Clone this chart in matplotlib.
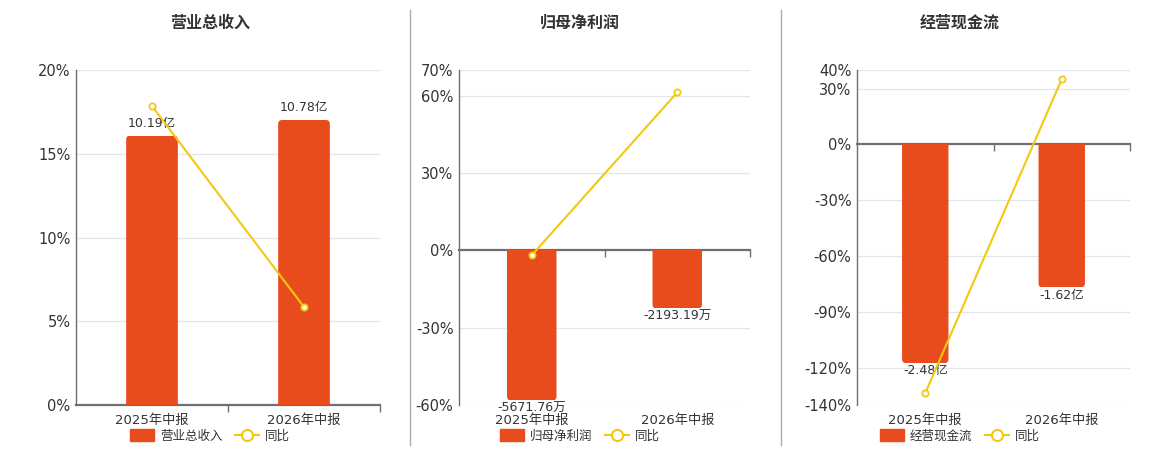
import numpy as np
import matplotlib.pyplot as plt
from matplotlib.patches import Patch, FancyBboxPatch, Rectangle
from matplotlib.lines import Line2D

plt.rcParams['font.family'] = ['DejaVu Sans', 'Noto Sans CJK SC']

# data
periods = ["2025年中报", "2026年中报"]
titles = ["营业总收入", "归母净利润", "经营现金流"]
revenue = [10.19, 10.78]          # 亿
revenue_yoy = [17.85, 5.85]       # %
profit = [-5671.76, -2193.19]     # 万
profit_yoy = [-1.9, 61.3]         # %
cashflow = [-2.48, -1.62]         # 亿
cashflow_yoy = [-133.6, 35.1]     # %

BAR = '#E84B1C'
LINE = '#F2C811'
TXT = '#333333'
AXC = '#6E6E78'
GRID = '#E1E5EF'

W, H = 1160, 450


def draw_panel(rect, bars, yoy, unit, yticks, ylim, k, title, cx):
    l, r, top, bot = rect
    ax = fig.add_axes([l / W, 1 - bot / H, (r - l) / W, (bot - top) / H])
    bar_ax = ax.twinx()
    line_ax = ax.twinx()
    x = np.arange(len(periods))
    for a in (ax, bar_ax, line_ax):
        a.set_xlim(-0.5, len(periods) - 0.5)
        for s in a.spines.values():
            s.set_visible(False)
    ax.set_ylim(*ylim)
    line_ax.set_ylim(*ylim)
    bar_ax.set_ylim(ylim[0] * k, ylim[1] * k)
    bar_ax.set_yticks([])
    line_ax.set_yticks([])

    # percent axis
    ax.set_yticks(yticks)
    ax.set_yticklabels([f"{t}%" for t in yticks])
    ax.tick_params(axis='y', length=0, labelsize=10.5, labelcolor=TXT, pad=4)
    for t in yticks:
        if t != 0:
            ax.axhline(t, color=GRID, lw=0.9, zorder=0)
    ax.spines['left'].set_visible(True)
    ax.spines['left'].set_color(AXC)
    ax.spines['left'].set_linewidth(1.0)

    # zero axis line with boundary ticks
    ax.spines['bottom'].set_visible(True)
    ax.spines['bottom'].set_position(('data', 0))
    ax.spines['bottom'].set_color(AXC)
    ax.spines['bottom'].set_linewidth(1.6)
    ax.set_xticks([])
    ax.set_xticks([0.5, 1.5], minor=True)
    ax.tick_params(axis='x', which='minor', length=5, color=AXC, width=1)
    for i, p in enumerate(periods):
        ax.text(i, -0.045, p, transform=ax.get_xaxis_transform(),
                ha='center', va='center', fontsize=9.5, color=TXT)

    # bars, rounded at the outer end only
    rects = bar_ax.bar(x, bars, width=0.34, color=BAR, zorder=2)
    rad = 4.0
    rx = rad * len(periods) / (r - l)
    ry = rad * (ylim[1] - ylim[0]) * k / (bot - top)
    for rc in rects:
        x0, y0, w, h = rc.get_x(), rc.get_y(), rc.get_width(), rc.get_height()
        sgn = 1 if h >= 0 else -1
        start = y0 - sgn * 3 * ry
        fb = FancyBboxPatch((x0, min(start, y0 + h)), w, abs(h) + 3 * ry,
                            boxstyle=f"round,pad=0,rounding_size={rx}",
                            mutation_aspect=ry / rx, facecolor=BAR, edgecolor='none', zorder=2)
        bar_ax.add_patch(fb)
        clip = Rectangle((x0 - w, min(y0, y0 + h)), 3 * w, abs(h), transform=bar_ax.transData)
        fb.set_clip_path(clip)
        rc.set_visible(False)
    for i, v in enumerate(bars):
        if v >= 0:
            off, va = 4, 'bottom'
        else:
            off, va = -1, 'top'
        bar_ax.annotate(f"{v:.2f}{unit}", (i, v), xytext=(0, off), textcoords='offset points',
                        ha='center', va=va, fontsize=9, color=TXT)

    # yoy line
    line_ax.plot(x, yoy, color=LINE, lw=1.5, marker='o', ms=4.5,
                 mfc='white', mec=LINE, mew=1.3, zorder=3)

    fig.text(cx / W, 1 - 23 / H, title, ha='center', va='center',
             fontsize=11.5, fontweight='bold', color=TXT)
    handles = [Patch(facecolor=BAR, edgecolor=BAR),
               Line2D([], [], color=LINE, lw=1.5, marker='o', ms=8, mfc='white', mec=LINE, mew=1.5)]
    fig.legend(handles, [title, "同比"], loc='center', bbox_to_anchor=(cx / W, 1 - 436 / H),
               ncol=2, frameon=False, fontsize=9, handlelength=1.9, handleheight=1.1,
               columnspacing=1.0, handletextpad=0.5, labelcolor=TXT)


fig = plt.figure(figsize=(W / 100, H / 100), dpi=100)

draw_panel((76, 380, 70, 405), revenue, revenue_yoy, "亿",
           [0, 5, 10, 15, 20], (0, 20), 0.6335, titles[0], 210)
draw_panel((459, 750, 70, 405), profit, profit_yoy, "万",
           [-60, -30, 0, 30, 60, 70], (-60, 70), 97.4, titles[1], 580)
draw_panel((857, 1130, 70, 405), cashflow, cashflow_yoy, "亿",
           [-140, -120, -90, -60, -30, 0, 30, 40], (-140, 40), 0.02111, titles[2], 960)

for xd in (410, 781):
    fig.add_artist(Line2D([xd / W, xd / W], [1 - 445 / H, 1 - 10 / H], color='#AAAAAA', lw=1))

fig.savefig('out.png', dpi=100)
